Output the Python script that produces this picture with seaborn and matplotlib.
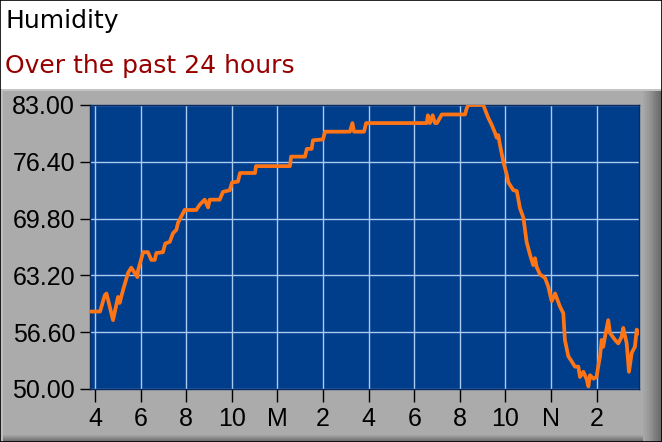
import numpy as np
import pandas as pd
import matplotlib
matplotlib.use("Agg")
import matplotlib.pyplot as plt
import seaborn as sns
from matplotlib.patches import Rectangle

# ---- data (hours since midnight of day 1; 24 = midnight "M", 36 = noon "N") ----
hours = [15.82, 16.22, 16.43, 16.50, 16.57, 16.79, 17.01, 17.08, 17.23, 17.45,
         17.59, 17.74, 17.86, 17.89, 18.11, 18.32, 18.47, 18.62, 18.69, 18.98,
         19.08, 19.28, 19.42, 19.57, 19.64, 19.93, 20.44, 20.59, 20.81, 20.96,
         21.03, 21.47, 21.61, 21.91, 22.01, 22.27, 22.36, 23.02, 23.06, 24.55,
         24.60, 25.21, 25.29, 25.50, 25.56, 26.00, 26.09, 27.18, 27.29, 27.36,
         27.80, 27.89, 30.55, 30.60, 30.69, 30.81, 30.91, 31.00, 31.21, 32.23,
         32.30, 32.37, 33.03, 33.25, 33.40, 33.54, 33.62, 33.69, 33.76, 33.91,
         34.06, 34.13, 34.35, 34.50, 34.64, 34.79, 34.93, 35.08, 35.22, 35.30,
         35.37, 35.52, 35.74, 35.88, 36.03, 36.18, 36.39, 36.54, 36.61, 36.76,
         36.91, 37.05, 37.20, 37.27, 37.42, 37.57, 37.64, 37.71, 37.86, 38.00,
         38.07, 38.15, 38.22, 38.29, 38.37, 38.51, 38.59, 38.81, 38.95, 39.10,
         39.17, 39.32, 39.42, 39.54, 39.68, 39.76, 39.86]
humidity = [59.0, 59.0, 60.9, 61.1, 60.4, 58.0, 60.7, 60.0, 61.5, 63.5,
            64.1, 63.5, 63.0, 63.8, 65.9, 65.9, 65.0, 65.0, 65.8, 65.9,
            66.9, 67.1, 68.1, 68.5, 69.3, 70.8, 70.8, 71.4, 72.0, 71.1,
            72.0, 72.0, 72.9, 73.1, 74.0, 74.1, 75.1, 75.1, 75.9, 75.9,
            77.0, 77.0, 77.9, 77.9, 78.9, 79.0, 79.9, 79.9, 80.9, 79.9,
            79.9, 80.9, 80.9, 81.8, 80.9, 81.8, 80.9, 80.9, 81.9, 81.9,
            82.6, 83.0, 83.0, 81.5, 80.7, 79.8, 79.2, 79.5, 78.4, 76.4,
            74.9, 74.0, 73.1, 73.0, 71.0, 69.9, 67.1, 65.6, 64.4, 65.2,
            64.2, 63.3, 62.9, 61.9, 60.2, 61.1, 59.6, 58.8, 55.7, 53.8,
            53.2, 52.6, 52.6, 51.4, 52.0, 51.1, 50.3, 51.6, 51.2, 51.4,
            52.6, 53.8, 55.7, 54.9, 56.1, 58.0, 56.5, 55.7, 55.3, 56.1,
            57.1, 55.3, 52.0, 54.2, 54.9, 56.9, 56.5]
y_ticks = [50.0, 56.6, 63.2, 69.8, 76.4, 83.0]
x_ticks = [16, 18, 20, 22, 24, 26, 28, 30, 32, 34, 36, 38]
x_labels = ["4", "6", "8", "10", "M", "2", "4", "6", "8", "10", "N", "2"]
title = "Humidity"
subtitle = "Over the past 24 hours"

df = pd.DataFrame({"hour": hours, "humidity": humidity})

W, H = 662, 442
fig = plt.figure(figsize=(W / 100, H / 100), dpi=100)
fig.patch.set_facecolor("white")


def px_rect(x0, y0, x1, y1, color, z=-5):
    fig.add_artist(Rectangle((x0 / W, 1 - y1 / H), (x1 - x0) / W, (y1 - y0) / H,
                             transform=fig.transFigure, facecolor=color,
                             edgecolor="none", zorder=z))


# gray panel with bevel
px_rect(0, 89, W, H, "#ABABAB")
px_rect(0, 89, W, 91, "#C4C4C4", z=-4)
px_rect(0, 89, 3, H, "#BEBEBE", z=-4)
shade = ["#A6A6A6", "#A0A0A0", "#9A9A9A", "#939393", "#8C8C8C", "#858585",
         "#7E7E7E", "#777777", "#707070", "#6A6A6A"]
for i, c in enumerate(shade):
    px_rect(643 + i * 1.9, 91, 645 + i * 1.9, H, c, z=-4)
bshade = ["#A2A2A2", "#999999", "#8F8F8F", "#858585", "#7B7B7B", "#717171", "#676767"]
for i, c in enumerate(bshade):
    px_rect(3, 435 + i, 643, 436 + i, c, z=-4)

# outer border
fig.add_artist(Rectangle((0, 0), 1, 1, transform=fig.transFigure, fill=False,
                         edgecolor="black", linewidth=1.2, zorder=10))

ax = fig.add_axes([90 / W, 1 - 389 / H, (639 - 90) / W, (389 - 105) / H])
ax.set_facecolor("#003D8B")
sns.lineplot(data=df, x="hour", y="humidity", ax=ax, color="#FF7414",
             linewidth=2.7, zorder=3)
ax.set_xlim(15.78, 39.86)
ax.set_ylim(50, 83)
ax.set_xticks(x_ticks)
ax.set_xticklabels(x_labels)
ax.set_yticks(y_ticks)
ax.set_yticklabels([f"{v:.2f}" for v in y_ticks])
ax.grid(True, color="#A9CBF2", linewidth=1.0, zorder=1)
ax.set_axisbelow(True)
ax.set_xlabel("")
ax.set_ylabel("")
for s in ax.spines.values():
    s.set_color("#0A2A60")
    s.set_linewidth(1.0)
ax.tick_params(axis="y", length=7.5, width=1, color="black", pad=3.2,
               labelsize=18, labelcolor="black")
ax.tick_params(axis="x", length=9.5, width=1, color="black", pad=3.5,
               labelsize=18, labelcolor="black")
for lab in ax.get_xticklabels() + ax.get_yticklabels():
    lab.set_family("Liberation Sans")

fig.text(5 / W, 1 - 28 / H, title, fontsize=18, family="DejaVu Sans",
         color="black", va="baseline", ha="left")
fig.text(5 / W, 1 - 73 / H, subtitle, fontsize=18, family="DejaVu Sans",
         color="#960000", va="baseline", ha="left")

fig.savefig("out.png", dpi=100)
